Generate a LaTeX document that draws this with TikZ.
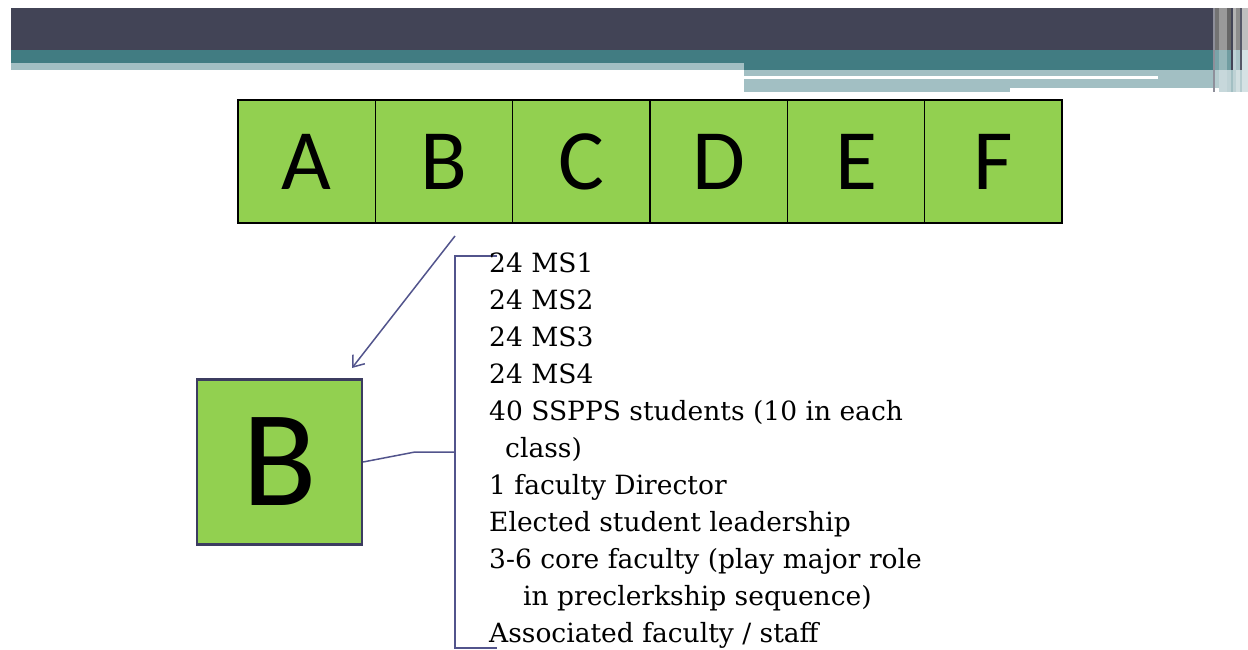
\documentclass[tikz,border=0pt]{standalone}
\usepackage{fontspec}
\usetikzlibrary{arrows.meta}
\setmainfont{DejaVu Serif}
\newfontfamily\cellfont{Carlito}

\definecolor{bardark}{RGB}{66,68,86}
\definecolor{barteal}{RGB}{65,124,130}
\definecolor{barlight}{RGB}{162,191,195}
\definecolor{cellgreen}{RGB}{146,208,80}
\definecolor{linkblue}{RGB}{82,84,140}
\definecolor{boxnavy}{RGB}{60,60,96}

\tikzset{
    cell/.style={draw=black, line width=1.6pt, fill=cellgreen, minimum width=137.33pt,
        minimum height=123pt, inner sep=0pt, font=\cellfont\fontsize{86}{86}\selectfont},
    bigbox/.style={draw=boxnavy, line width=2.2pt, fill=cellgreen, minimum size=165pt,
        inner sep=0pt, font=\cellfont\fontsize{137}{137}\selectfont},
    link/.style={draw=linkblue, line width=1.5pt},
    roster/.style={anchor=base west, inner sep=0pt, font=\fontsize{26.5}{30}\selectfont}
}

\begin{document}
\begin{tikzpicture}[x=1pt, y=-1pt]
    \useasboundingbox (0,0) rectangle (1248,650);

    % title bars
    \fill[bardark] (11,8) rectangle (1213,50);
    \fill[barteal] (11,50) rectangle (1213,63);
    \fill[barlight] (11,63) rectangle (744,70);
    \fill[barteal] (744,63) rectangle (1213,70);
    \fill[barlight] (744,70) rectangle (1213,88);
    \fill[barlight] (744,88) rectangle (1010,92);
    \fill[white] (744,76) rectangle (1158,79);

    % stripes at the right end of the bars
    \fill[bardark!60!white] (1213,8) rectangle (1215,92);
    \fill[black!55] (1215,8) rectangle (1219,50);
    \fill[barteal!70!white] (1215,50) rectangle (1219,70);
    \fill[barlight!80!white] (1215,70) rectangle (1219,88);
    \fill[black!40] (1219,8) rectangle (1227,50);
    \fill[barteal!55!white] (1219,50) rectangle (1227,70);
    \fill[barlight!60!white] (1219,70) rectangle (1227,92);
    \fill[black!60] (1227,8) rectangle (1231,50);
    \fill[barteal!75!white] (1227,50) rectangle (1231,70);
    \fill[barlight!70!white] (1227,70) rectangle (1231,92);
    \fill[bardark] (1231,8) rectangle (1233,70);
    \fill[barlight] (1231,70) rectangle (1233,92);
    \fill[black!30] (1233,8) rectangle (1236,50);
    \fill[barlight!70!white] (1233,50) rectangle (1236,92);
    \fill[black!45] (1236,8) rectangle (1240,50);
    \fill[barteal!45!white] (1236,50) rectangle (1240,70);
    \fill[barlight!50!white] (1236,70) rectangle (1240,92);
    \fill[bardark!90!white] (1240,8) rectangle (1242,70);
    \fill[barlight!80!white] (1240,70) rectangle (1242,92);
    \fill[black!25] (1242,8) rectangle (1248,50);
    \fill[barlight!45!white] (1242,50) rectangle (1248,92);

    % row of cells
    \foreach \l [count=\i from 0] in {A,B,C,D,E,F}
        \node[cell] (cell\l) at ({306.67+137.33*\i},161.5) {\l};

    % enlarged cell
    \node[bigbox] (bigB) at (279.5,462) {B};

    \coordinate (arrowtail) at (455,236);
    \coordinate (arrowtip) at (352,368);
    \draw[link, -{Straight Barb[length=10pt, width=15pt]}] (arrowtail) -- (arrowtip);

    % bracket round the list
    \coordinate (brtopend) at (497,256);
    \coordinate (brtop) at (455,256);
    \coordinate (brmid) at (455,452);
    \coordinate (brbot) at (455,648);
    \coordinate (brbotend) at (497,648);
    \coordinate (bend) at (415,452);
    \draw[link] (brtopend) -- (brtop) -- (brbot) -- (brbotend);
    \draw[link] (bigB.east) -- (bend) -- (brmid);

    % list of members
    \node[roster] (line0) at (489,272) {24 MS1};
    \node[roster] (line1) at (489,309) {24 MS2};
    \node[roster] (line2) at (489,346) {24 MS3};
    \node[roster] (line3) at (489,383) {24 MS4};
    \node[roster] (line4) at (489,420) {40 SSPPS students (10 in each};
    \node[roster] (line5) at (505,457) {class)};
    \node[roster] (line6) at (489,494) {1 faculty Director};
    \node[roster] (line7) at (489,531) {Elected student leadership};
    \node[roster] (line8) at (489,568) {3-6 core faculty (play major role};
    \node[roster] (line9) at (523,605) {in preclerkship sequence)};
    \node[roster] (line10) at (489,642) {Associated faculty / staff};
\end{tikzpicture}
\end{document}
